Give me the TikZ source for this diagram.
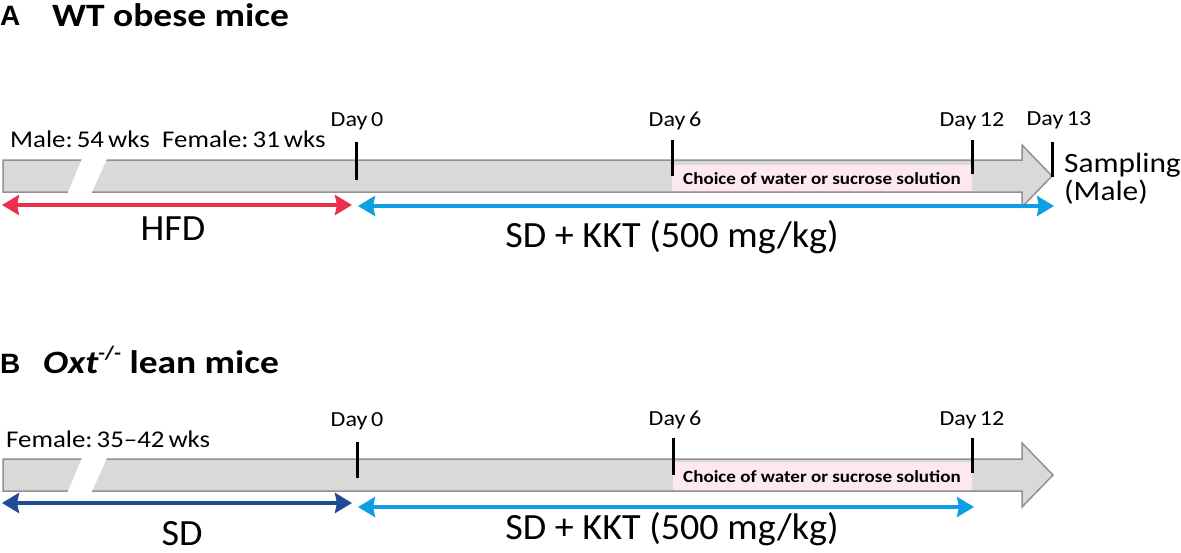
\documentclass[tikz,border=0pt]{standalone}
\usepackage{fontspec}
\setmainfont{Carlito}
\newfontfamily\labf[FakeStretch=1.12]{Carlito}
\newfontfamily\titf[FakeStretch=1.15]{Carlito}
\newfontfamily\bigf[FakeStretch=1.03]{Carlito}
\newfontfamily\letf{Liberation Sans}
\usetikzlibrary{arrows.meta}
\definecolor{bargray}{RGB}{217,217,217}
\definecolor{barline}{RGB}{145,145,145}
\definecolor{pinkbox}{RGB}{252,232,237}
\definecolor{hfdred}{RGB}{234,48,76}
\definecolor{kktblue}{RGB}{14,158,228}
\definecolor{sdblue}{RGB}{33,74,148}
\begin{document}
\begin{tikzpicture}[x=1pt,y=-1pt,
  bar/.style={fill=bargray, draw=barline, line width=1.5pt, line join=miter},
  gap/.style={fill=white, draw=none},
  pinkfill/.style={fill=pinkbox, draw=none},
  tickmark/.style={line width=3pt, black},
  dur/.style={line width=4pt, {Stealth[length=17pt,width=20pt,inset=2pt]}-{Stealth[length=17pt,width=20pt,inset=2pt]}},
  daylab/.style={anchor=base, inner sep=0pt, font=\labf\fontsize{21.5}{24}\selectfont},
  agelab/.style={anchor=base west, inner sep=0pt, font=\labf\fontsize{24}{28}\selectfont},
  biglab/.style={anchor=base, inner sep=0pt, font=\bigf\fontsize{37}{42}\selectfont},
  samplab/.style={anchor=base west, inner sep=0pt, font=\labf\fontsize{28}{32}\selectfont},
  choicelab/.style={anchor=center, inner sep=0pt, font=\labf\bfseries\fontsize{17}{20}\selectfont},
  panellet/.style={anchor=base west, inner sep=0pt, font=\letf\bfseries\fontsize{28}{30}\selectfont},
  paneltit/.style={anchor=base west, inner sep=0pt, font=\titf\bfseries\fontsize{32.6}{36}\selectfont}
]
\useasboundingbox (0,0) rectangle (1181,552);

% ===================== Panel A =====================
\node[panellet] (la) at (0,25) {A};
\node[paneltit] (ta) at (52,26) {WT obese mice};

\draw[bar] (3,160) -- (1022,160) -- (1022,145) -- (1052,176) -- (1022,207) -- (1022,192) -- (3,192) -- cycle;
\fill[gap] (82.6,157.5) -- (107.6,157.5) -- (91.4,193.5) -- (67.4,193.5) -- cycle;
\fill[pinkfill] (672,165) rectangle (972,191);
\node[choicelab] (ca) at (822,179) {Choice of water or sucrose solution};

\node[agelab] (ma) at (10,147) {Male:\,54\,wks};
\node[agelab] (fa) at (162,147) {Female:\,31\,wks};

\node[daylab] (d0a) at (357,126) {Day\,0};
\node[daylab] (d6a) at (675,126) {Day\,6};
\node[daylab] (d12a) at (972,126) {Day\,12};
\node[daylab] (d13a) at (1059,125) {Day\,13};

\coordinate (t0a1) at (356,142); \coordinate (t0a2) at (356,180);
\coordinate (t6a1) at (672,140); \coordinate (t6a2) at (672,176);
\coordinate (t12a1) at (972,140); \coordinate (t12a2) at (972,174);
\coordinate (t13a1) at (1052,142); \coordinate (t13a2) at (1052,177);
\draw[tickmark] (t0a1) -- (t0a2);
\draw[tickmark] (t6a1) -- (t6a2);
\draw[tickmark] (t12a1) -- (t12a2);
\draw[tickmark] (t13a1) -- (t13a2);

\node[samplab] (sa) at (1064,172) {Sampling};
\node[samplab] (sma) at (1064,200) {(Male)};

\coordinate (ra1) at (2,205); \coordinate (ra2) at (352,205);
\draw[dur, hfdred] (ra1) -- (ra2);
\coordinate (ba1) at (358,206); \coordinate (ba2) at (1054,206);
\draw[dur, kktblue] (ba1) -- (ba2);

\node[biglab] (hfd) at (173,240) {HFD};
\node[biglab] (kkta) at (672,247) {SD + KKT (500 mg/kg)};

% ===================== Panel B =====================
\node[panellet] (lb) at (0,373) {B};
\node[paneltit] (tb) at (43,373) {\itshape Oxt\raisebox{0.42em}{\upshape\fontsize{19}{20}\selectfont -/-}\upshape\ lean mice};

\draw[bar] (3,459) -- (1022,459) -- (1022,443) -- (1053,475) -- (1022,507) -- (1022,491) -- (3,491) -- cycle;
\fill[gap] (82.6,456.5) -- (107.6,456.5) -- (91.4,492.5) -- (67.4,492.5) -- cycle;
\fill[pinkfill] (673,462) rectangle (972,490);
\node[choicelab] (cb) at (822,477) {Choice of water or sucrose solution};

\node[agelab] (fb) at (6,447) {Female:\,35–42\,wks};

\node[daylab] (d0b) at (357,426) {Day\,0};
\node[daylab] (d6b) at (675,425) {Day\,6};
\node[daylab] (d12b) at (972,425) {Day\,12};

\coordinate (t0b1) at (357,442); \coordinate (t0b2) at (357,478);
\coordinate (t6b1) at (673,438); \coordinate (t6b2) at (673,475);
\coordinate (t12b1) at (972,438); \coordinate (t12b2) at (972,473);
\draw[tickmark] (t0b1) -- (t0b2);
\draw[tickmark] (t6b1) -- (t6b2);
\draw[tickmark] (t12b1) -- (t12b2);

\coordinate (sb1) at (2,503); \coordinate (sb2) at (352,503);
\draw[dur, sdblue] (sb1) -- (sb2);
\coordinate (bb1) at (358,507); \coordinate (bb2) at (974,507);
\draw[dur, kktblue] (bb1) -- (bb2);

\node[biglab] (sd) at (182,545) {SD};
\node[biglab] (kktb) at (672,539) {SD + KKT (500 mg/kg)};
\end{tikzpicture}
\end{document}
